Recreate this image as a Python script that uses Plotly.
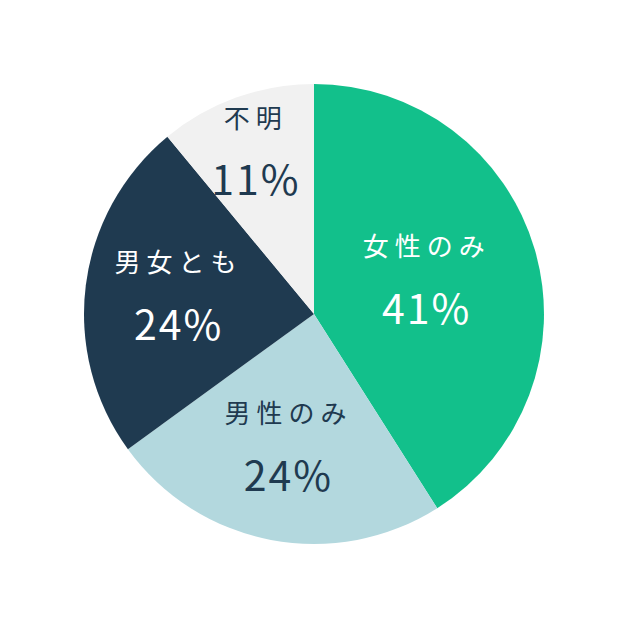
import plotly.graph_objects as go

labels = ["女性のみ", "男性のみ", "男女とも", "不明"]
values = [41, 24, 24, 11]
colors = ["#12C08B", "#B3D8DE", "#1F3A50", "#F1F1F1"]
text_colors = ["#FFFFFF", "#1F3A50", "#FFFFFF", "#1F3A50"]

fig = go.Figure(go.Pie(
    labels=labels,
    values=values,
    sort=False,
    direction="clockwise",
    rotation=0,
    marker=dict(colors=colors, line=dict(width=0)),
    texttemplate=("<span style='letter-spacing:6px'>%{label}</span><br> <br>"
                  "<span style='font-size:41px;letter-spacing:2px'>%{value}%</span>"),
    textposition="inside",
    insidetextorientation="horizontal",
    textfont=dict(family="Noto Sans CJK JP", size=26, color=text_colors),
    domain=dict(x=[0.1214, 0.8562], y=[0.1438, 0.8786]),
    hoverinfo="skip",
))

fig.update_layout(
    width=626, height=626,
    margin=dict(l=0, r=0, t=0, b=0),
    paper_bgcolor="white",
    showlegend=False,
    uniformtext=dict(minsize=26, mode="show"),
)

fig.write_html("out.html")
